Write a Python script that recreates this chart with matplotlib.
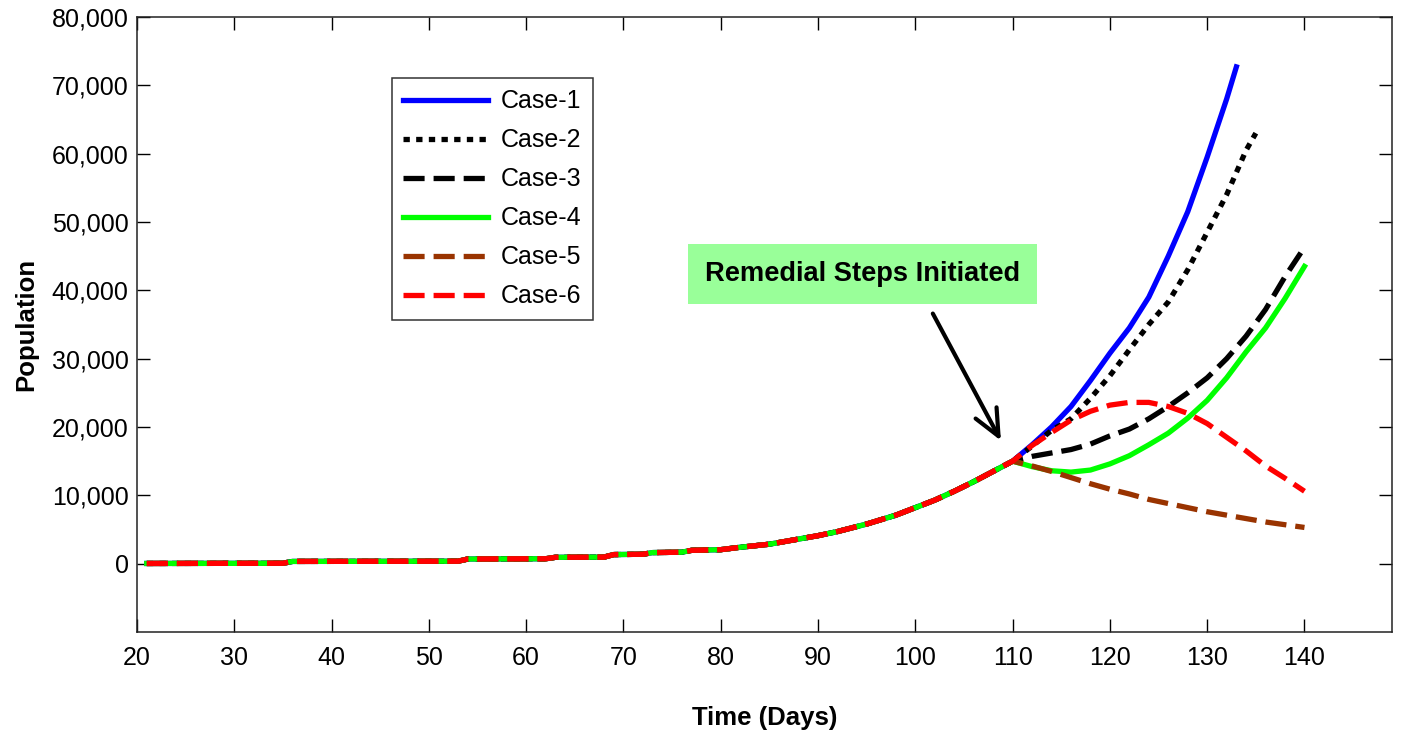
import matplotlib
matplotlib.use('Agg')
import matplotlib.pyplot as plt
import numpy as np
from matplotlib.ticker import FuncFormatter

plt.rcParams['font.family'] = ['Liberation Sans', 'DejaVu Sans']

# common history (all cases identical up to day 110)
common_days = [21, 35, 36, 53, 54, 62, 63, 68, 69, 72, 73, 76, 77, 80, 82, 85, 88, 90,
               92, 95, 98, 100, 102, 104, 106, 108]
common_vals = [30, 60, 330, 360, 680, 720, 930, 960, 1330, 1380, 1620, 1680, 1950, 2050,
               2400, 2850, 3600, 4100, 4700, 5800, 7100, 8200, 9300, 10600, 12000, 13500]

# branches after remedial steps
case1_days = [110, 112, 114, 116, 118, 120, 122, 124, 126, 128, 130, 132, 133]
case1_vals = [15000, 17400, 20000, 23000, 26800, 30800, 34500, 39000, 45000, 51500,
              59500, 68000, 72700]

case2_days = [110, 112, 114, 116, 118, 120, 122, 124, 126, 128, 130, 132, 134, 135]
case2_vals = [15000, 17200, 19500, 21200, 24200, 27500, 31300, 35000, 38300, 43000,
              48500, 54000, 60500, 63000]

branch_days = [110, 112, 114, 116, 118, 120, 122, 124, 126, 128, 130, 132, 134, 136, 138, 140]
case3_vals = [15000, 15700, 16200, 16700, 17500, 18700, 19700, 21200, 23000, 25000,
              27200, 30000, 33300, 37200, 42000, 46300]
case4_vals = [15000, 14200, 13600, 13400, 13700, 14600, 15800, 17400, 19100, 21300,
              23900, 27200, 31000, 34500, 38800, 43500]
case5_vals = [15000, 14300, 13500, 12600, 11700, 10900, 10200, 9400, 8800, 8200,
              7600, 7100, 6600, 6100, 5700, 5300]
case6_vals = [15000, 17300, 19200, 21000, 22300, 23200, 23600, 23600, 23000, 22000,
              20500, 18500, 16500, 14300, 12500, 10600]

labels = ['Case-1', 'Case-2', 'Case-3', 'Case-4', 'Case-5', 'Case-6']

fig = plt.figure(figsize=(14.01, 7.36), dpi=100)
ax = fig.add_axes([0.0978, 0.1413, 0.8958, 0.8356])

def full(days, vals):
    return np.concatenate([common_days, days]), np.concatenate([common_vals, vals])

lw = 3.8
x, y = full(case1_days, case1_vals)
ax.plot(x, y, color='#0000ff', lw=lw, label=labels[0])
x, y = full(case2_days, case2_vals)
ax.plot(x, y, color='black', lw=lw, dashes=(1.2, 1.2), label=labels[1])
x, y = full(branch_days, case3_vals)
ax.plot(x, y, color='black', lw=lw, dashes=(4.0, 1.7), label=labels[2])
x, y = full(branch_days, case4_vals)
ax.plot(x, y, color='#00ff00', lw=lw, label=labels[3])
x, y = full(branch_days, case5_vals)
ax.plot(x, y, color='#993300', lw=lw, dashes=(4.0, 1.7), label=labels[4])
x, y = full(branch_days, case6_vals)
ax.plot(x, y, color='#ff0000', lw=lw, dashes=(4.0, 1.7), label=labels[5])

ax.set_xlim(20, 149)
ax.set_ylim(-10000, 80000)
ax.set_xticks(np.arange(20, 141, 10))
ax.set_yticks(np.arange(0, 80001, 10000))
ax.yaxis.set_major_formatter(FuncFormatter(lambda v, p: f'{int(v):,}'))
ax.tick_params(direction='in', length=9.5, width=1, labelsize=18,
               top=True, right=True)
ax.tick_params(axis='x', pad=10)
ax.tick_params(axis='y', pad=6)
for s in ax.spines.values():
    s.set_linewidth(1.1)
    s.set_color('#222222')

ax.set_xlabel('Time (Days)', fontsize=18.5, fontweight='bold', labelpad=26)
ax.set_ylabel('Population', fontsize=18.5, fontweight='bold', labelpad=10)

# annotation box and arrow
ax.text(94.6, 42400, 'Remedial Steps Initiated', ha='center', va='center',
        fontsize=19.6, fontweight='bold',
        bbox=dict(boxstyle='square,pad=0.62', fc='#99ff99', ec='none'))
ax.annotate('', xy=(108.8, 18000), xytext=(101.8, 36600),
            arrowprops=dict(arrowstyle='->,head_length=1.0,head_width=0.45',
                            color='black', lw=3, mutation_scale=19,
                            shrinkA=0, shrinkB=0))

leg = ax.legend(loc='upper left', bbox_to_anchor=(0.2032, 0.9008), borderaxespad=0,
                fontsize=18, handlelength=3.4, labelspacing=0.6, fancybox=False,
                framealpha=1, edgecolor='#333333', borderpad=0.45, handletextpad=0.5)
leg.get_frame().set_linewidth(1.1)

plt.savefig('out.png', dpi=100)
